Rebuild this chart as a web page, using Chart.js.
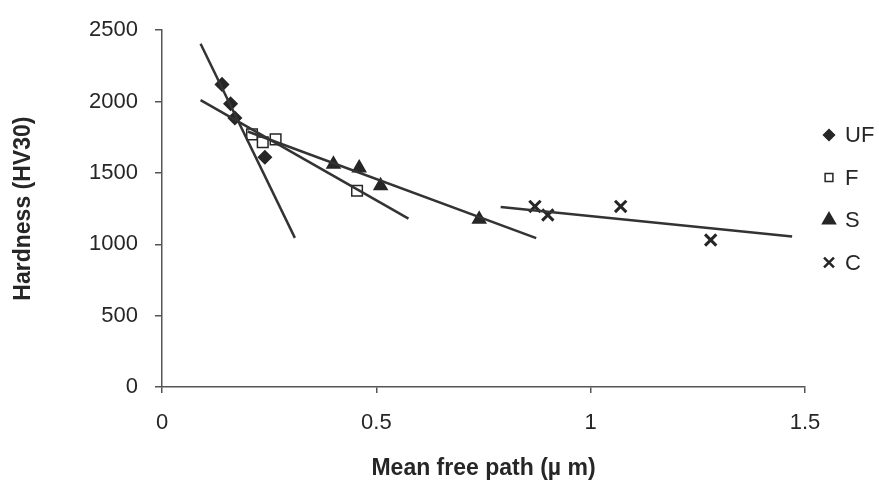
<!DOCTYPE html>
<html>
<head>
<meta charset="utf-8">
<script src="https://cdn.jsdelivr.net/npm/chart.js@4.4.0/dist/chart.umd.min.js"></script>
<style>
  html, body { margin: 0; padding: 0; background: #fff; }
  #wrap { width: 879px; height: 484px; }
</style>
</head>
<body>
<div id="wrap"><canvas id="hardnessChart" width="879" height="484"></canvas></div>
<script>
const ufX = [0.14, 0.16, 0.17, 0.24];
const ufY = [2120, 1985, 1885, 1610];
const fX = [0.21, 0.235, 0.265, 0.455];
const fY = [1770, 1715, 1735, 1375];
const sX = [0.40, 0.46, 0.51, 0.74];
const sY = [1560, 1535, 1410, 1175];
const cX = [0.87, 0.90, 1.07, 1.28];
const cY = [1265, 1205, 1265, 1030];

// Trend line end points
const ufFitX = [0.09, 0.31];
const ufFitY = [2405, 1045];
const fFitX = [0.09, 0.575];
const fFitY = [2010, 1180];
const sFitX = [0.20, 0.873];
const sFitY = [1790, 1043];
const cFitX = [0.79, 1.47];
const cFitY = [1262, 1054];

const xTicks = [0, 0.5, 1, 1.5];
const yTicks = [0, 500, 1000, 1500, 2000, 2500];

const ink = '#262626';
const fontFamily = '"Liberation Sans", Arial, sans-serif';

function toPoints(xs, ys) {
    return xs.map((x, i) => ({ x: x, y: ys[i] }));
}

function markerSet(label, xs, ys, style, radius, fill, legendRadius) {
    return {
        label: label,
        data: toPoints(xs, ys),
        showLine: false,
        pointStyle: style,
        pointRadius: radius,
        pointBackgroundColor: fill,
        pointBorderColor: ink,
        pointBorderWidth: style === 'crossRot' ? 3 : 1.5,
        inLegend: true,
        legendRadius: legendRadius
    };
}

function fitLine(xs, ys) {
    return {
        label: '',
        data: toPoints(xs, ys),
        showLine: true,
        borderColor: '#333',
        borderWidth: 2.5,
        pointRadius: 0,
        inLegend: false
    };
}

// Legend drawn at the right, like the original
const sideLegend = {
    id: 'sideLegend',
    afterDraw(chart) {
        const ctx = chart.ctx;
        const items = chart.data.datasets.filter(d => d.inLegend);
        const top = 135;
        const step = 42.5;
        ctx.save();
        ctx.font = '22px ' + fontFamily;
        ctx.textBaseline = 'middle';
        ctx.textAlign = 'left';
        items.forEach((d, i) => {
            const y = top + i * step;
            ctx.fillStyle = d.pointBackgroundColor;
            ctx.strokeStyle = ink;
            ctx.lineWidth = d.pointStyle === 'crossRot' ? 2.5 : 1.5;
            Chart.helpers.drawPoint(ctx, {
                pointStyle: d.pointStyle,
                radius: d.legendRadius,
                rotation: 0,
                borderWidth: ctx.lineWidth
            }, 829, y);
            ctx.fillStyle = ink;
            ctx.fillText(d.label, 845, y + 1);
        });
        ctx.restore();
    }
};

const ctx = document.getElementById('hardnessChart').getContext('2d');

new Chart(ctx, {
    type: 'scatter',
    data: {
        datasets: [
            fitLine(ufFitX, ufFitY),
            fitLine(fFitX, fFitY),
            fitLine(sFitX, sFitY),
            fitLine(cFitX, cFitY),
            markerSet('UF', ufX, ufY, 'rectRot', 6.5, ink, 5.5),
            markerSet('F', fX, fY, 'rect', 7.5, '#fff', 5.5),
            markerSet('S', sX, sY, 'triangle', 7.5, ink, 7.5),
            markerSet('C', cX, cY, 'crossRot', 8, ink, 7)
        ]
    },
    options: {
        responsive: false,
        animation: false,
        layout: {
            padding: { top: 21, right: 74, left: 0, bottom: 0 }
        },
        plugins: {
            legend: { display: false },
            tooltip: { enabled: false }
        },
        scales: {
            x: {
                type: 'linear',
                min: 0,
                max: 1.5,
                afterBuildTicks: scale => { scale.ticks = xTicks.map(v => ({ value: v })); },
                afterFit: scale => { scale.height = 97; },
                ticks: {
                    color: ink,
                    padding: 17,
                    font: { family: fontFamily, size: 22 },
                    callback: v => String(v)
                },
                grid: {
                    drawOnChartArea: false,
                    drawTicks: true,
                    tickLength: 6,
                    color: '#555',
                    lineWidth: 1.5
                },
                border: { display: true, color: '#555', width: 1.5 },
                title: {
                    display: true,
                    text: 'Mean free path (\u00b5 m)',
                    color: ink,
                    font: { family: fontFamily, size: 23, weight: 'bold' },
                    padding: { top: 2, bottom: 2 }
                }
            },
            y: {
                type: 'linear',
                min: 0,
                max: 2500,
                afterBuildTicks: scale => { scale.ticks = yTicks.map(v => ({ value: v })); },
                afterFit: scale => { scale.width = 162; },
                ticks: {
                    color: ink,
                    padding: 17,
                    font: { family: fontFamily, size: 22 },
                    callback: v => String(v)
                },
                grid: {
                    drawOnChartArea: false,
                    drawTicks: true,
                    tickLength: 7,
                    color: '#555',
                    lineWidth: 1.5
                },
                border: { display: true, color: '#555', width: 1.5 },
                title: {
                    display: true,
                    text: 'Hardness (HV30)',
                    color: ink,
                    font: { family: fontFamily, size: 23, weight: 'bold' },
                    padding: { top: 10, bottom: 4 }
                }
            }
        }
    },
    plugins: [sideLegend]
});
</script>
</body>
</html>
